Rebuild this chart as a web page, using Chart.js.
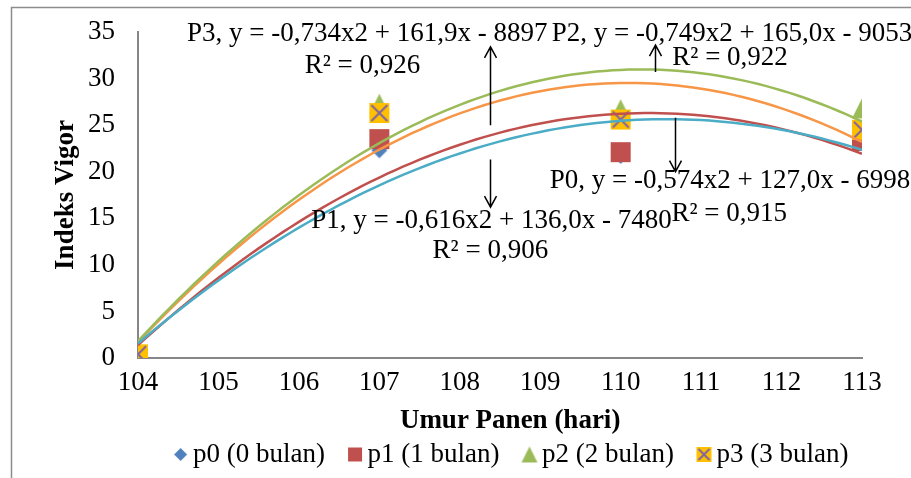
<!DOCTYPE html>
<html>
<head>
<meta charset="utf-8">
<script src="https://cdn.jsdelivr.net/npm/chart.js@4.4.1/dist/chart.umd.min.js"></script>
<style>
  html, body { margin: 0; padding: 0; background: #fff; }
  #wrap { position: relative; width: 911px; height: 478px; }
</style>
</head>
<body>
<div id="wrap"><canvas id="chart"></canvas></div>
<script>
// umur panen (hari) on x, indeks vigor on y
const umurPanen = [104, 107, 110, 113];
const p0 = [0.3, 22.3, 21.7, 23.6];
const p1 = [0.0, 23.5, 22.1, 23.3];
const p2 = [0.4, 27.3, 26.7, 26.8];
const p3 = [0.4, 26.3, 25.6, 24.5];
const seriesNames = ['p0 (0 bulan)', 'p1 (1 bulan)', 'p2 (2 bulan)', 'p3 (3 bulan)'];
const xTicks = [104, 105, 106, 107, 108, 109, 110, 111, 112, 113];
const yTicks = [0, 5, 10, 15, 20, 25, 30, 35];

// trendline equations as printed on the chart
const eqTexts = [
  { text: 'P3, y = -0,734x2 + 161,9x - 8897', x: 106.85, y: 34.79 },
  { text: 'R\u00B2 = 0,926', x: 106.79, y: 31.35 },
  { text: 'P2, y = -0,749x2 + 165,0x - 9053', x: 111.385, y: 34.79 },
  { text: 'R\u00B2 = 0,922', x: 111.36, y: 32.21 },
  { text: 'P0, y = -0,574x2 + 127,0x - 6998', x: 111.36, y: 19.0 },
  { text: 'R\u00B2 = 0,915', x: 111.35, y: 15.45 },
  { text: 'P1, y = -0,616x2 + 136,0x - 7480', x: 108.395, y: 14.7 },
  { text: 'R\u00B2 = 0,906', x: 108.38, y: 11.49 }
];
// arrow: from y0 to y1, head at y1
const eqArrows = [
  { x: 108.376, y0: 25.0, y1: 33.4 },
  { x: 108.376, y0: 21.3, y1: 16.2 },
  { x: 110.427, y0: 30.7, y1: 33.6 },
  { x: 110.676, y0: 25.8, y1: 20.0 }
];

const markColors = ['#4F81BD', '#C0504D', '#9BBB59', '#FFC000'];
const trendColors = ['#4BACC6', '#C0504D', '#9BBB59', '#F79646'];

Chart.defaults.font.family = '"Liberation Serif", "Times New Roman", serif';
Chart.defaults.font.size = 27;
Chart.defaults.color = '#000';

// least squares quadratic, same as the excel polynomial trendline
function fitQuad(xs, ys) {
  const n = xs.length;
  const mx = xs.reduce((s, v) => s + v, 0) / n;
  const S = [[0, 0, 0], [0, 0, 0], [0, 0, 0]];
  const T = [0, 0, 0];
  xs.forEach((x, i) => {
    const u = x - mx;
    const p = [1, u, u * u];
    for (let r = 0; r < 3; r++) {
      T[r] += p[r] * ys[i];
      for (let c = 0; c < 3; c++) S[r][c] += p[r] * p[c];
    }
  });
  // gauss
  for (let k = 0; k < 3; k++) {
    for (let r = k + 1; r < 3; r++) {
      const f = S[r][k] / S[k][k];
      for (let c = k; c < 3; c++) S[r][c] -= f * S[k][c];
      T[r] -= f * T[k];
    }
  }
  const co = [0, 0, 0];
  for (let r = 2; r >= 0; r--) {
    let s = T[r];
    for (let c = r + 1; c < 3; c++) s -= S[r][c] * co[c];
    co[r] = s / S[r][r];
  }
  return x => co[0] + co[1] * (x - mx) + co[2] * (x - mx) * (x - mx);
}

function trendPoints(ys) {
  const f = fitQuad(umurPanen, ys);
  const pts = [];
  const x0 = umurPanen[0], x1 = umurPanen[umurPanen.length - 1];
  for (let i = 0; i <= 90; i++) {
    const x = x0 + (x1 - x0) * i / 90;
    pts.push({ x: x, y: f(x) });
  }
  return pts;
}

function marker(kind, s, shift) {
  shift = shift || 0;
  const w = Math.ceil(s + 4 + 2 * Math.abs(shift)), h = Math.ceil(s + 4);
  const c = document.createElement('canvas');
  c.width = w; c.height = h;
  const g = c.getContext('2d');
  const cx = w / 2 + shift, cy = h / 2, r = s / 2;
  if (kind === 0) {
    g.fillStyle = markColors[0];
    g.beginPath();
    g.moveTo(cx, cy - r); g.lineTo(cx + r, cy); g.lineTo(cx, cy + r); g.lineTo(cx - r, cy);
    g.closePath(); g.fill();
  } else if (kind === 1) {
    g.fillStyle = markColors[1];
    g.fillRect(cx - r, cy - r, s, s);
  } else if (kind === 2) {
    g.fillStyle = markColors[2];
    g.beginPath();
    g.moveTo(cx, cy - r); g.lineTo(cx + r, cy + r); g.lineTo(cx - r, cy + r);
    g.closePath(); g.fill();
  } else {
    g.fillStyle = markColors[3];
    g.fillRect(cx - r, cy - r, s, s);
    g.strokeStyle = '#8064A2';
    g.lineWidth = 2;
    const k = r - 2;
    g.beginPath();
    g.moveTo(cx - k, cy - k); g.lineTo(cx + k, cy + k);
    g.moveTo(cx + k, cy - k); g.lineTo(cx - k, cy + k);
    g.stroke();
  }
  return c;
}

const chartMarks = [marker(0, 16), marker(1, 20), marker(2, 20), marker(3, 20)];
const legendMarks = [marker(0, 13, 8), marker(1, 14, 8), marker(2, 16, 8), marker(3, 15, 8)];

const allSeries = [p0, p1, p2, p3];
const datasets = [];
allSeries.forEach((ys, i) => {
  datasets.push({
    label: seriesNames[i],
    data: umurPanen.map((x, j) => ({ x: x, y: ys[j] })),
    pointStyle: chartMarks[i],
    pointRadius: 10,
    showLine: false,
    order: 4 - i
  });
});
allSeries.forEach((ys, i) => {
  datasets.push({
    label: 'trend ' + seriesNames[i],
    data: trendPoints(ys),
    showLine: true,
    borderColor: trendColors[i],
    borderWidth: 2.5,
    pointRadius: 0,
    tension: 0,
    order: 0
  });
});

const framePlugin = {
  id: 'frame',
  beforeDraw(chart) {
    const ctx = chart.ctx;
    ctx.save();
    ctx.fillStyle = '#fff';
    ctx.fillRect(0, 0, chart.width, chart.height);
    ctx.strokeStyle = '#8c8c8c';
    ctx.lineWidth = 1.5;
    ctx.beginPath();
    ctx.moveTo(11.5, chart.height);
    ctx.lineTo(11.5, 7.5);
    ctx.lineTo(chart.width, 7.5);
    ctx.stroke();
    ctx.restore();
  }
};

const notesPlugin = {
  id: 'notes',
  afterDatasetsDraw(chart) {
    const ctx = chart.ctx, xs = chart.scales.x, ys = chart.scales.y;
    ctx.save();
    ctx.strokeStyle = '#000';
    ctx.lineWidth = 1.5;
    eqArrows.forEach(a => {
      const px = Math.round(xs.getPixelForValue(a.x)) + 0.5;
      const y0 = ys.getPixelForValue(a.y0), y1 = ys.getPixelForValue(a.y1);
      const dir = y1 < y0 ? 1 : -1;
      ctx.beginPath();
      ctx.moveTo(px, y0); ctx.lineTo(px, y1);
      ctx.moveTo(px - 6, y1 + dir * 11); ctx.lineTo(px, y1); ctx.lineTo(px + 6, y1 + dir * 11);
      ctx.stroke();
    });
    ctx.fillStyle = '#000';
    ctx.font = '27px "Liberation Serif", "Times New Roman", serif';
    ctx.textAlign = 'center';
    ctx.textBaseline = 'middle';
    eqTexts.forEach(t => {
      ctx.fillText(t.text, xs.getPixelForValue(t.x), ys.getPixelForValue(t.y));
    });
    ctx.restore();
  }
};

const legendShift = {
  id: 'legendShift',
  afterLayout(chart) {
    chart.legend.left += 76;
    chart.legend.right += 76;
  }
};

new Chart(document.getElementById('chart'), {
  type: 'scatter',
  data: { datasets: datasets },
  options: {
    responsive: true,
    maintainAspectRatio: false,
    animation: false,
    layout: { padding: { left: 0, top: 32, right: 49, bottom: 0 } },
    plugins: {
      tooltip: { enabled: false },
      legend: {
        position: 'bottom',
        labels: {
          usePointStyle: true,
          pointStyleWidth: 14,
          padding: 15,
          color: '#000',
          generateLabels: () => seriesNames.map((name, i) => ({
            text: name,
            pointStyle: legendMarks[i],
            datasetIndex: i,
            hidden: false,
            lineWidth: 0,
            fontColor: '#000'
          }))
        }
      }
    },
    scales: {
      x: {
        type: 'linear',
        min: xTicks[0],
        max: xTicks[xTicks.length - 1],
        afterBuildTicks: s => { s.ticks = xTicks.map(v => ({ value: v })); },
        afterFit: s => { s.height = 68; },
        grid: { display: false },
        border: { color: '#868686', width: 2 },
        ticks: { padding: 1, color: '#000' },
        title: {
          display: true,
          text: '\u00A0\u00A0\u00A0Umur Panen (hari)',
          font: { weight: 'bold', size: 27 },
          color: '#000',
          padding: { top: 0, bottom: -11 }
        }
      },
      y: {
        min: yTicks[0],
        max: yTicks[yTicks.length - 1],
        afterBuildTicks: s => { s.ticks = yTicks.map(v => ({ value: v })); },
        afterFit: s => { s.width = 138; },
        grid: { display: false },
        border: { color: '#868686', width: 2 },
        ticks: { padding: 15, color: '#000' },
        title: {
          display: true,
          text: 'Indeks Vigor',
          font: { weight: 'bold', size: 27 },
          color: '#000',
          padding: { top: 50, bottom: 0 }
        }
      }
    }
  },
  plugins: [framePlugin, notesPlugin, legendShift]
});
</script>
</body>
</html>
